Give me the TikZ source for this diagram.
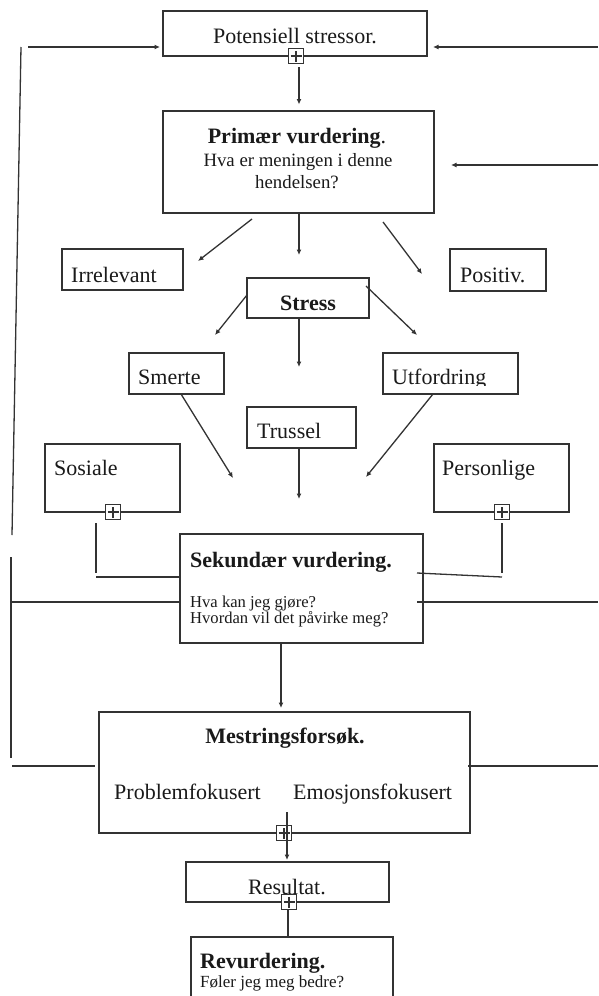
\documentclass[tikz,border=0pt]{standalone}
\usepackage{fontspec}
\setmainfont{Liberation Serif}
\usetikzlibrary{arrows.meta}
\definecolor{ln}{HTML}{333333}
\definecolor{tx}{HTML}{1A1A1A}
\begin{document}
\begin{tikzpicture}[x=1pt,y=-1pt,
  box/.style={draw=ln,line width=1.3pt,inner sep=0pt,rectangle},
  lbl/.style={inner sep=0pt,anchor=base west,text=tx,font=\fontsize{22}{26}\selectfont},
  lblc/.style={lbl,anchor=base},
  small/.style={font=\fontsize{16.6}{16}\selectfont},
  mid/.style={font=\fontsize{18.8}{22}\selectfont},
  conn/.style={draw=ln,line width=1.3pt},
  arr/.style={conn,-{Latex[length=5.5pt,width=5pt]}},
  plusbox/.style={draw=ln,line width=1.3pt,minimum size=15pt,inner sep=0pt,fill=white,
    path picture={
      \draw[ln,line width=1.2pt] ([xshift=-5.5pt]path picture bounding box.center) -- ([xshift=5.5pt]path picture bounding box.center);
      \draw[ln,line width=1.2pt] ([yshift=-5.5pt]path picture bounding box.center) -- ([yshift=5.5pt]path picture bounding box.center);}}
]
\useasboundingbox[fill=white] (0,0) rectangle (598,996);

% ---------- boxes ----------
\node[box,minimum width=264pt,minimum height=45pt] (pot) at (295,33.5) {};
\node[box,minimum width=271pt,minimum height=102pt] (prim) at (298.5,162) {};
\node[box,minimum width=121pt,minimum height=41pt] (irr) at (122.5,269.5) {};
\node[box,minimum width=96pt,minimum height=42pt] (pos) at (498,270) {};
\node[box,minimum width=122pt,minimum height=40pt] (stress) at (308,298) {};
\node[box,minimum width=95pt,minimum height=41pt] (smerte) at (176.5,373.5) {};
\node[box,minimum width=135pt,minimum height=41pt] (utf) at (450.5,373.5) {};
\node[box,minimum width=109pt,minimum height=41pt] (trussel) at (301.5,427.5) {};
\node[box,minimum width=135pt,minimum height=68pt] (sos) at (112.5,478) {};
\node[box,minimum width=135pt,minimum height=68pt] (pers) at (501.5,478) {};
\node[box,minimum width=243pt,minimum height=109pt] (sek) at (301.5,588.5) {};
\node[box,minimum width=371pt,minimum height=121pt] (mest) at (284.5,772.5) {};
\node[box,minimum width=203pt,minimum height=40pt] (res) at (287.5,882) {};
\node[box,minimum width=202pt,minimum height=90pt] (rev) at (292,982) {};

% ---------- texts ----------
\node[lblc] (tpot) at (295,43) {Potensiell stressor.};
\node[lblc] (tprim1) at (297,143) {\textbf{Primær vurdering}.};
\node[lblc,mid] (tprim2) at (298,166) {Hva er meningen i denne};
\node[lblc,mid] (tprim3) at (297,188) {hendelsen?};
\node[lbl] (tirr) at (71,282) {Irrelevant};
\node[lbl] (tpos) at (460,282) {Positiv.};
\node[lblc] (tstress) at (308,310) {\textbf{Stress}};
\node[lbl] (tsmerte) at (138,384) {Smerte};
\begin{scope}
  \clip (383,353) rectangle (518,385.5);
  \node[lbl] (tutf) at (392,384) {Utfordring};
\end{scope}
\node[lbl] (ttrussel) at (257,438) {Trussel};
\node[lbl] (tsos) at (54,475) {Sosiale};
\node[lbl] (tpers) at (442,475) {Personlige};
\node[lbl] (tsek1) at (190,567) {\textbf{Sekundær vurdering.}};
\node[lbl,small] (tsek2) at (190,607) {Hva kan jeg gjøre?};
\node[lbl,small] (tsek3) at (190,623) {Hvordan vil det påvirke meg?};
\node[lblc] (tmest) at (285,743) {\textbf{Mestringsforsøk.}};
\node[lbl] (tprob) at (114,799) {Problemfokusert};
\node[lbl] (temo) at (293,799) {Emosjonsfokusert};
\node[lbl] (tres) at (248,894) {Resultat.};
\node[lbl] (trev1) at (200,968) {\textbf{Revurdering.}};
\node[lbl,small,font=\fontsize{17}{17}\selectfont] (trev2) at (200,987) {Føler jeg meg bedre?};

% ---------- plus boxes ----------
\node[plusbox] (p1) at (296,56) {};
\node[plusbox] (p2) at (113,512) {};
\node[plusbox] (p3) at (502,512) {};
\node[plusbox] (p4) at (284,833) {};
\node[plusbox] (p5) at (289,902) {};

% ---------- free coordinates ----------
\coordinate (la0) at (28,47);   \coordinate (la1) at (160,47);
\coordinate (ra0) at (598,47);  \coordinate (ra1) at (433,47);
\coordinate (v1a) at (21,47);   \coordinate (v1b) at (12,535);
\coordinate (v2a) at (11,557);  \coordinate (v2b) at (11,758);
\coordinate (h1a) at (11,602);  \coordinate (h1b) at (180,602);
\coordinate (h2a) at (417,602); \coordinate (h2b) at (598,602);
\coordinate (h3a) at (12,766);  \coordinate (h3b) at (95,766);
\coordinate (h4a) at (468,766); \coordinate (h4b) at (598,766);
\coordinate (d1a) at (299,67);  \coordinate (d1b) at (299,104.5);
\coordinate (rb0) at (598,165); \coordinate (rb1) at (451,165);
\coordinate (a1a) at (252,219); \coordinate (a1b) at (198,261);
\coordinate (a2a) at (299,213); \coordinate (a2b) at (299,255);
\coordinate (a3a) at (383,222); \coordinate (a3b) at (422,274);
\coordinate (b1a) at (247,295); \coordinate (b1b) at (215,335);
\coordinate (b2a) at (299,318); \coordinate (b2b) at (299,367);
\coordinate (b3a) at (366,286); \coordinate (b3b) at (417,335);
\coordinate (c1a) at (181,394); \coordinate (c1b) at (233,478);
\coordinate (c2a) at (433,394); \coordinate (c2b) at (366,477);
\coordinate (c3a) at (299,448); \coordinate (c3b) at (299,499);
\coordinate (s1a) at (96,523);  \coordinate (s1b) at (96,573);
\coordinate (s1c) at (96,577);  \coordinate (s1d) at (180,577);
\coordinate (s2a) at (502,523); \coordinate (s2b) at (502,573);
\coordinate (s2c) at (502,577); \coordinate (s2d) at (417,573);
\coordinate (e1a) at (281,643); \coordinate (e1b) at (281,708);
\coordinate (e2a) at (287,812); \coordinate (e2b) at (287,860);
\coordinate (e3a) at (288,909.5); \coordinate (e3b) at (288,937);

% ---------- connectors ----------
\draw[arr] (la0) -- (la1);
\draw[arr] (ra0) -- (ra1);
\draw[conn] (v1a) -- (v1b);
\draw[conn] (v2a) -- (v2b);
\draw[conn] (h1a) -- (h1b);
\draw[conn] (h2a) -- (h2b);
\draw[conn] (h3a) -- (h3b);
\draw[conn] (h4a) -- (h4b);
\draw[arr] (d1a) -- (d1b);
\draw[arr] (rb0) -- (rb1);
\draw[arr] (a1a) -- (a1b);
\draw[arr] (a2a) -- (a2b);
\draw[arr] (a3a) -- (a3b);
\draw[arr] (b1a) -- (b1b);
\draw[arr] (b2a) -- (b2b);
\draw[arr] (b3a) -- (b3b);
\draw[arr] (c1a) -- (c1b);
\draw[arr] (c2a) -- (c2b);
\draw[arr] (c3a) -- (c3b);
\draw[conn] (s1a) -- (s1b);
\draw[conn] (s1c) -- (s1d);
\draw[conn] (s2a) -- (s2b);
\draw[conn] (s2c) -- (s2d);
\draw[arr] (e1a) -- (e1b);
\draw[arr] (e2a) -- (e2b);
\draw[conn] (e3a) -- (e3b);
\end{tikzpicture}
\end{document}
